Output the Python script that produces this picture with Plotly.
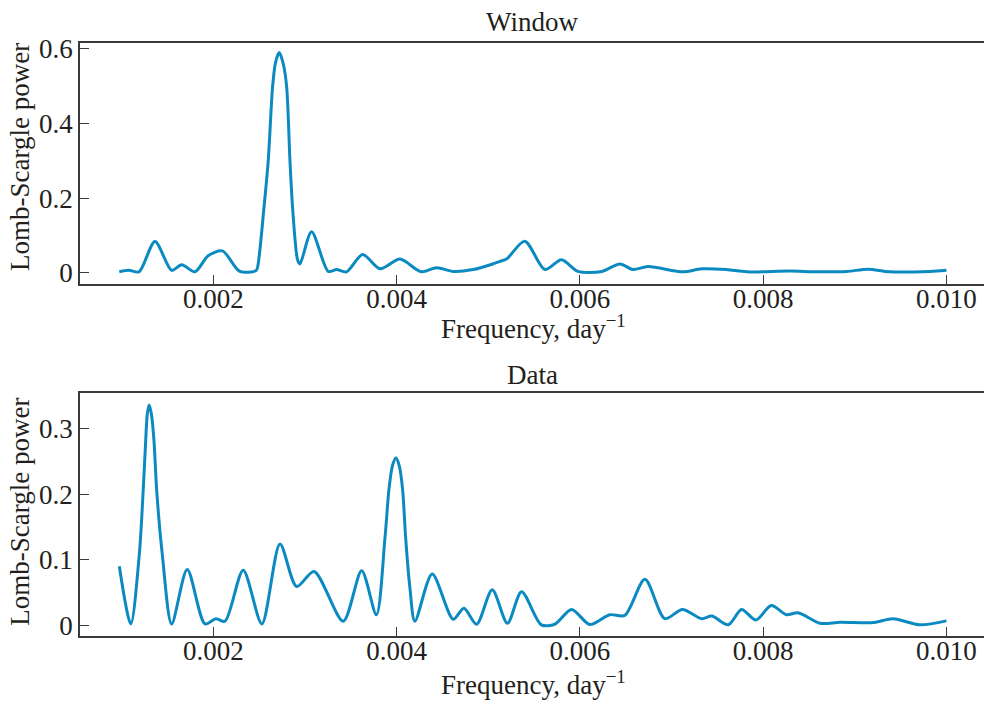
import plotly.graph_objects as go
from plotly.subplots import make_subplots

# ---- data (frequency in day^-1, Lomb-Scargle power) ----
window_freq = [0.000975, 0.00108, 0.00119, 0.001364, 0.001546, 0.001655, 0.00180, 0.001945, 0.00210,
               0.00229, 0.00247, 0.00249, 0.002553, 0.00260, 0.002648, 0.00268, 0.00272, 0.00276,
               0.00280, 0.002837, 0.002866, 0.00292, 0.002946,
               0.003073, 0.003255, 0.003346, 0.003455, 0.00363, 0.00382, 0.004037, 0.00427, 0.004437,
               0.00462, 0.004836, 0.00505, 0.00513, 0.00520, 0.00540, 0.005618, 0.00580, 0.00598,
               0.00624, 0.006437, 0.00658, 0.006745, 0.007127, 0.00733, 0.00760, 0.00782, 0.00829,
               0.00858, 0.00891, 0.009145, 0.00938, 0.00982, 0.01000]
window_power = [0.003, 0.007, 0.003, 0.084, 0.007, 0.022, 0.003, 0.046, 0.059,
                0.004, 0.007, 0.024, 0.173, 0.30, 0.50, 0.563, 0.589, 0.563,
                0.50, 0.30, 0.173, 0.035, 0.024,
                0.110, 0.004, 0.009, 0.003, 0.049, 0.011, 0.037, 0.003, 0.014,
                0.004, 0.009, 0.024, 0.031, 0.037, 0.085, 0.009, 0.035, 0.004,
                0.004, 0.024, 0.009, 0.017, 0.003, 0.011, 0.009, 0.003, 0.005,
                0.003, 0.004, 0.010, 0.003, 0.004, 0.007]

data_freq = [0.000975, 0.00110, 0.001193, 0.001236, 0.001263, 0.00128, 0.00130, 0.001325, 0.001353,
             0.001382, 0.001444, 0.001546, 0.001716, 0.00191,
             0.00203, 0.002128, 0.002327, 0.00253, 0.002728, 0.00291, 0.00310, 0.003418, 0.003619,
             0.00378, 0.003873, 0.003917, 0.003955, 0.003993, 0.00403, 0.004066, 0.00410, 0.004145,
             0.00420, 0.004389, 0.004618, 0.004735, 0.004873,
             0.005044, 0.00521, 0.005364, 0.00558, 0.005727, 0.00591, 0.00611, 0.006327, 0.00649,
             0.00671, 0.006927, 0.00712, 0.00733, 0.00744, 0.00762, 0.007765, 0.00792, 0.00809,
             0.008255, 0.00838, 0.00862, 0.00884, 0.00920, 0.009418, 0.00971, 0.01000]
data_power = [0.090, 0.002, 0.108, 0.207, 0.282, 0.322, 0.336, 0.322, 0.282,
              0.207, 0.108, 0.002, 0.085, 0.002,
              0.010, 0.006, 0.084, 0.002, 0.124, 0.059, 0.082, 0.006, 0.083,
              0.016, 0.132, 0.207, 0.243, 0.255, 0.243, 0.207, 0.132, 0.058,
              0.006, 0.078, 0.009, 0.026, 0.0015,
              0.054, 0.003, 0.051, 0.0006, 0.0015, 0.024, 0.001, 0.016, 0.015,
              0.070, 0.010, 0.024, 0.010, 0.014, 0.0006, 0.024, 0.008, 0.030,
              0.016, 0.019, 0.003, 0.0045, 0.004, 0.010, 0.0006, 0.0066]

panel_titles = ["Window", "Data"]
x_title = "Frequency, day<sup>\u22121</sup>"
y_title = "Lomb-Scargle power"
x_ticks = [0.002, 0.004, 0.006, 0.008, 0.010]
x_ticklabels = ["0.002", "0.004", "0.006", "0.008", "0.010"]
y_ticks_top = [0, 0.2, 0.4, 0.6]
y_ticklabels_top = ["0", "0.2", "0.4", "0.6"]
y_ticks_bot = [0, 0.1, 0.2, 0.3]
y_ticklabels_bot = ["0", "0.1", "0.2", "0.3"]

LINE = "#0b8ac1"
AX = "#3a3a3a"
TXT = "#231f20"
FONT = "Liberation Serif"
FS = 27

fig = make_subplots(rows=2, cols=1)
fig.add_trace(go.Scatter(x=window_freq, y=window_power, mode="lines",
                         line=dict(color=LINE, width=3, shape="spline", smoothing=0.8),
                         showlegend=False), row=1, col=1)
fig.add_trace(go.Scatter(x=data_freq, y=data_power, mode="lines",
                         line=dict(color=LINE, width=3, shape="spline", smoothing=0.8),
                         showlegend=False), row=2, col=1)

W, H = 984, 704
L = 80
def py(p):
    return 1 - p / H
def px(p):
    return (p - L) / (W - L)

xcommon = dict(range=[0.000546, 0.01041], tickvals=x_ticks, ticktext=x_ticklabels,
               showline=True, linecolor=AX, linewidth=1.5, mirror=True,
               ticks="inside", ticklen=9, tickwidth=1.2, tickcolor=AX,
               showgrid=False, zeroline=False, ticklabelstandoff=-10,
               tickfont=dict(family=FONT, size=FS, color=TXT))
ycommon = dict(showline=True, linecolor=AX, linewidth=1.5, mirror=False,
               ticks="inside", ticklen=9, tickwidth=1.2, tickcolor=AX,
               showgrid=False, zeroline=False,
               tickfont=dict(family=FONT, size=FS, color=TXT))

fig.update_xaxes(**xcommon)
fig.update_yaxes(**ycommon)
fig.update_layout(
    xaxis=dict(domain=[0, 1]),
    xaxis2=dict(domain=[0, 1]),
    yaxis=dict(domain=[py(280.7), py(34.5)], range=[-0.0299, 0.6152],
               tickvals=y_ticks_top, ticktext=y_ticklabels_top),
    yaxis2=dict(domain=[py(639.3), py(392.3)], range=[-0.0158, 0.3534],
                tickvals=y_ticks_bot, ticktext=y_ticklabels_bot),
)

ann = []
for title, ty, xy, yc in [(panel_titles[0], 13, 324, 151), (panel_titles[1], 373, 688, 513)]:
    ann.append(dict(text=title, x=px(532), y=py(ty), xref="paper", yref="paper",
                    showarrow=False, xanchor="center", yanchor="middle",
                    font=dict(family=FONT, size=FS, color=TXT)))
    ann.append(dict(text=x_title, x=px(533), y=py(xy), xref="paper", yref="paper",
                    showarrow=False, xanchor="center", yanchor="middle",
                    font=dict(family=FONT, size=FS, color=TXT)))
    ann.append(dict(text=y_title, x=px(20), y=py(yc), xref="paper", yref="paper",
                    showarrow=False, xanchor="center", yanchor="middle", textangle=-90,
                    font=dict(family=FONT, size=FS, color=TXT)))

fig.update_layout(width=W, height=H, margin=dict(l=L, r=0, t=0, b=0),
                  plot_bgcolor="white", paper_bgcolor="white",
                  annotations=ann, showlegend=False)

fig.write_html("out.html")
